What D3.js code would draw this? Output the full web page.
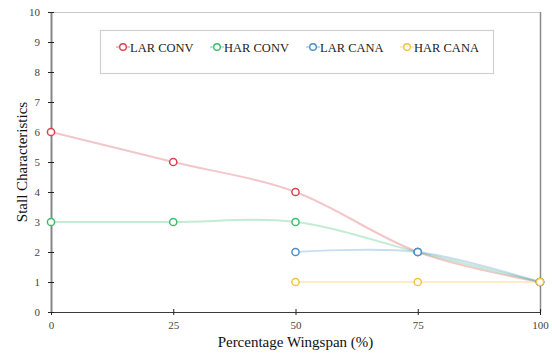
<!DOCTYPE html>
<html>
<head>
<meta charset="utf-8">
<script src="https://cdn.jsdelivr.net/npm/d3@7"></script>
<style>
  html, body { margin: 0; padding: 0; background: #fff; }
  svg { display: block; }
</style>
</head>
<body>
<svg id="chart" width="552" height="353"></svg>
<script>
// Stall characteristics along the wingspan, one series per configuration
const spanPct = [0, 25, 50, 75, 100];
const larConv = [6, 5, 4, 2, 1];
const harConv = [3, 3, 3, 2, 1];
const larCanaSpan = [50, 75, 100];
const larCana = [2, 2, 1];
const harCanaSpan = [50, 75, 100];
const harCana = [1, 1, 1];
const xTicks = [0, 25, 50, 75, 100];
const yTicks = [0, 1, 2, 3, 4, 5, 6, 7, 8, 9, 10];

const series = [
  { name: "LAR CONV", xs: spanPct, ys: larConv, color: "#d8434f" },
  { name: "HAR CONV", xs: spanPct, ys: harConv, color: "#3dbd6c" },
  { name: "LAR CANA", xs: larCanaSpan, ys: larCana, color: "#4b8fcf" },
  { name: "HAR CANA", xs: harCanaSpan, ys: harCana, color: "#f4c33f" }
];

const svg = d3.select("#chart");
const plotL = 51, plotR = 540, plotT = 12, plotB = 312;
const serif = "'Liberation Serif', 'Times New Roman', serif";

const x = d3.scaleLinear().domain([0, 100]).range([plotL, plotR]);
const y = d3.scaleLinear().domain([0, 10]).range([plotB, plotT]);

// plot frame (top and right)
svg.append("line").attr("x1", plotL).attr("x2", plotR).attr("y1", plotT + 0.5).attr("y2", plotT + 0.5)
  .attr("stroke", "#c8c8c8").attr("stroke-width", 1);
svg.append("line").attr("x1", plotR + 0.5).attr("x2", plotR + 0.5).attr("y1", plotT).attr("y2", plotB)
  .attr("stroke", "#8a8a8a").attr("stroke-width", 1.5);

// x axis
const xAxis = svg.append("g").attr("transform", `translate(0,${plotB})`)
  .call(d3.axisBottom(x).tickValues(xTicks).tickSizeInner(3).tickSizeOuter(0).tickPadding(6));
xAxis.select(".domain").attr("stroke", "#3a3a3a").attr("stroke-width", 1.2);
xAxis.selectAll(".tick line").attr("y1", -3).attr("y2", 3).attr("stroke", "#222");
xAxis.selectAll(".tick text").attr("font-family", serif).attr("font-size", 11).attr("fill", "#444");

// y axis
const yAxis = svg.append("g").attr("transform", `translate(${plotL},0)`)
  .call(d3.axisLeft(y).tickValues(yTicks).tickSizeInner(3).tickSizeOuter(0).tickPadding(8));
yAxis.select(".domain").attr("stroke", "#888").attr("stroke-width", 2);
yAxis.selectAll(".tick line").attr("x1", -3).attr("x2", 3).attr("stroke", "#222");
yAxis.selectAll(".tick text").attr("font-family", serif).attr("font-size", 11).attr("fill", "#444");

// axis titles
svg.append("text").attr("x", (plotL + plotR) / 2).attr("y", 347)
  .attr("text-anchor", "middle").attr("font-family", serif).attr("font-size", 15).attr("fill", "#111")
  .text("Percentage Wingspan (%)");
svg.append("text").attr("transform", `translate(27,${(plotT + plotB) / 2}) rotate(-90)`)
  .attr("text-anchor", "middle").attr("font-family", serif).attr("font-size", 15).attr("fill", "#111")
  .text("Stall Characteristics");

// smoothed series lines
const line = d3.line().curve(d3.curveCatmullRom.alpha(0));
series.forEach(s => {
  const pts = s.xs.map((v, i) => [x(v), y(s.ys[i])]);
  svg.append("path").attr("d", line(pts)).attr("fill", "none")
    .attr("stroke", s.color).attr("stroke-opacity", 0.3).attr("stroke-width", 2);
});
series.forEach(s => {
  svg.append("g").selectAll("circle").data(s.xs.map((v, i) => [v, s.ys[i]])).join("circle")
    .attr("cx", d => x(d[0])).attr("cy", d => y(d[1])).attr("r", 3.6)
    .attr("fill", "#fff").attr("stroke", s.color).attr("stroke-width", 1.5);
});

// legend
const lg = svg.append("g");
lg.append("rect").attr("x", 100.5).attr("y", 30.5).attr("width", 393).attr("height", 43)
  .attr("fill", "#fff").attr("stroke", "#d0d0d0").attr("stroke-width", 1.2);
const legendX = [123, 217, 313, 407];
series.forEach((s, i) => {
  const cx = legendX[i];
  lg.append("line").attr("x1", cx - 7).attr("x2", cx + 7).attr("y1", 47).attr("y2", 47)
    .attr("stroke", s.color).attr("stroke-opacity", 0.35).attr("stroke-width", 2);
  lg.append("circle").attr("cx", cx).attr("cy", 47).attr("r", 3.3)
    .attr("fill", "#fff").attr("stroke", s.color).attr("stroke-width", 1.4);
  lg.append("text").attr("x", cx + 7).attr("y", 51.5).attr("font-family", serif).attr("font-size", 12.5)
    .attr("fill", "#222").text(s.name);
});
</script>
</body>
</html>
